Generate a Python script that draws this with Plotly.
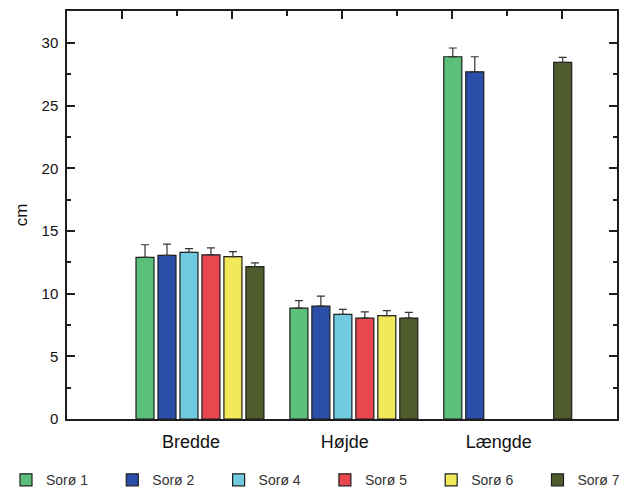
import plotly.graph_objects as go

categories = ["Bredde", "Højde", "Længde"]
series_names = ["Sorø 1", "Sorø 2", "Sorø 4", "Sorø 5", "Sorø 6", "Sorø 7"]
colors = ["#5dc07a", "#2b4fa8", "#70cbe0", "#e8474f", "#f1e85a", "#4e5d2b"]

soro1 = [12.9, 8.85, 28.9]
soro2 = [13.05, 9.0, 27.7]
soro4 = [13.3, 8.35, None]
soro5 = [13.1, 8.05, None]
soro6 = [12.95, 8.25, None]
soro7 = [12.15, 8.05, 28.45]

soro1_err = [1.0, 0.6, 0.7]
soro2_err = [0.9, 0.8, 1.2]
soro4_err = [0.3, 0.4, None]
soro5_err = [0.55, 0.5, None]
soro6_err = [0.4, 0.4, None]
soro7_err = [0.3, 0.45, 0.4]

values = [soro1, soro2, soro4, soro5, soro6, soro7]
errors = [soro1_err, soro2_err, soro4_err, soro5_err, soro6_err, soro7_err]

FONT = "Liberation Sans, Arial, Helvetica, sans-serif"

fig = go.Figure()
legend_ids = ["legend"] + [f"legend{i}" for i in range(2, len(series_names) + 1)]
for i, (name, vals, errs, col) in enumerate(zip(series_names, values, errors, colors)):
    fig.add_trace(go.Bar(
        x=categories, y=vals, name=name, legend=legend_ids[i],
        marker=dict(color=col, line=dict(color="#1e1e1e", width=1.2)),
        error_y=dict(type="data", symmetric=False,
                     array=[e if e is not None else 0 for e in errs],
                     arrayminus=[0, 0, 0],
                     color="#333333", thickness=1.2, width=4),
    ))

fig.update_layout(
    width=619, height=491,
    margin=dict(l=67, r=2, t=11, b=72, autoexpand=False),
    paper_bgcolor="white", plot_bgcolor="white",
    barmode="group", bargap=0.143, bargroupgap=0.18,
    font=dict(family=FONT, color="#111111"),
    xaxis=dict(
        type="category", range=[-0.864, 2.71],
        showline=True, linecolor="#1e1e1e", linewidth=1.5, mirror=True,
        ticks="", showgrid=False, zeroline=False,
        tickfont=dict(size=18, color="#111111"),
        ticklabelstandoff=6, ticklabelshift=-9,
    ),
    xaxis2=dict(
        overlaying="x", side="top", range=[0, 10], showgrid=False,
        zeroline=False, showticklabels=False, showline=False,
        tickmode="array", tickvals=[1, 3, 5, 7, 9],
        ticks="inside", ticklen=8, tickwidth=1.5, tickcolor="#1e1e1e",
        minor=dict(tickvals=[2, 4, 6, 8], ticks="inside", ticklen=5,
                   tickwidth=1.5, tickcolor="#1e1e1e"),
    ),
    yaxis=dict(
        range=[0, 32.55], showgrid=False, zeroline=False,
        showline=True, linecolor="#1e1e1e", linewidth=1.5, mirror="ticks",
        tickmode="linear", tick0=0, dtick=5,
        ticks="inside", ticklen=8, tickwidth=1.5, tickcolor="#1e1e1e",
        minor=dict(dtick=2.5, tick0=0, ticks="inside", ticklen=4,
                   tickwidth=1.5, tickcolor="#1e1e1e"),
        tickfont=dict(size=15, color="#111111"),
        ticklabelstandoff=4,
        title=dict(text="cm", font=dict(size=17, color="#111111"), standoff=10),
    ),
    showlegend=True,
)

for i, lid in enumerate(legend_ids):
    fig.update_layout({lid: dict(
        orientation="h", xref="container", yref="container",
        x=(6 + 106.3 * i) / 619, y=0.022, xanchor="left", yanchor="middle",
        font=dict(size=14, color="#333333"), bgcolor="rgba(0,0,0,0)",
        itemclick=False,
    )})

# invisible trace anchoring the top tick axis
fig.add_trace(go.Scatter(x=[0, 10], y=[0, 0], xaxis="x2", mode="markers",
                         marker=dict(opacity=0), showlegend=False,
                         hoverinfo="skip"))

fig.write_html("out.html")
